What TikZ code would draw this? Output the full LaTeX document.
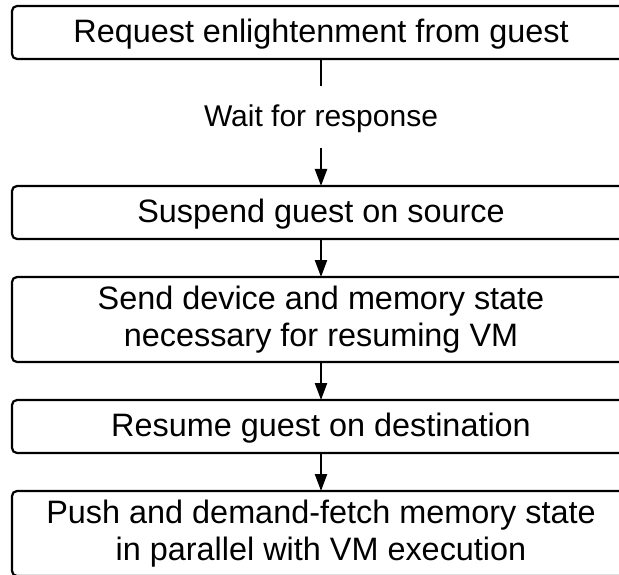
\documentclass[tikz,border=0pt]{standalone}
\usepackage{fontspec}
\setmainfont{Liberation Sans}
\usetikzlibrary{arrows.meta,positioning}

\begin{document}
\begin{tikzpicture}[node distance=38pt, every node/.style={font=\fontsize{32.4}{37}\selectfont,align=center,outer sep=0pt},
box/.style={draw,line width=2.2pt,rounded corners=5pt,minimum width=618pt,minimum height=53pt,inner sep=0pt,text height=23.3pt,text depth=3pt},
twoline/.style={box,minimum height=85pt,text height=,text depth=},
>={Triangle[length=17pt,width=12pt]}, line width=2.2pt]
\useasboundingbox (0,0) rectangle (619pt,-575pt);
\clip (0,0) rectangle (619pt,-575pt);
\node[box] (req) at (321pt,-32.5pt) {Request enlightenment from guest};
\node[below=27pt of req,font=\fontsize{30}{36}\selectfont,text height=24pt,text depth=4pt,inner xsep=0pt,inner ysep=17pt] (wait) {Wait for response};
\node[box,below=of wait] (suspend) {Suspend guest on source};
\node[twoline,below=of suspend] (send) {Send device and memory state\\necessary for resuming VM};
\node[box,below=of send] (resume) {Resume guest on destination};
\node[twoline,below=of resume] (push) {Push and demand-fetch memory state\\in parallel with VM execution};
\draw (req)--(wait);\draw[->] (wait)--(suspend);\draw[->] (suspend)--(send);\draw[->] (send)--(resume);\draw[->] (resume)--(push);
\end{tikzpicture}
\end{document}
